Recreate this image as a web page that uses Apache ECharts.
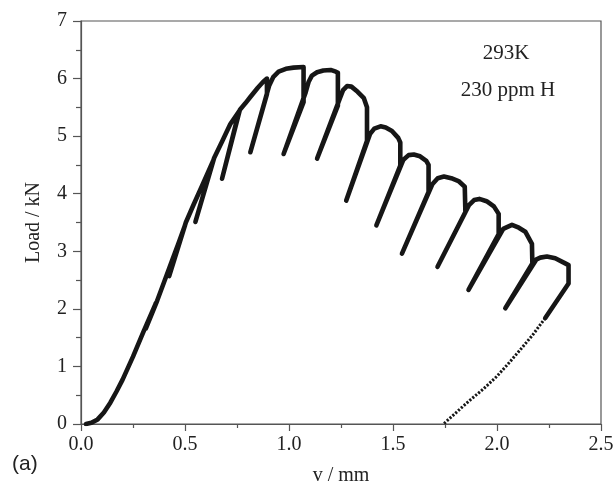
<!DOCTYPE html>
<html>
<head>
<meta charset="utf-8">
<script src="https://cdn.jsdelivr.net/npm/echarts@6/dist/echarts.min.js"></script>
<style>html,body{margin:0;padding:0;background:#fff}#c{width:614px;height:484px}</style>
</head>
<body>
<div id="c"></div>
<script>
// Displacement v (mm) of the loading / partial-unloading trace
const loadV = [0.024,0.05,0.08,0.11,0.141,0.17,0.2,0.25,0.30,0.36,
  0.312,0.366,0.40,0.44,0.47,0.50,
  0.424,0.504,0.54,0.58,0.636,
  0.55,0.64,0.68,0.718,0.76,
  0.678,0.764,0.79,0.814,0.85,0.875,0.894,
  0.894,0.814,0.905,0.925,0.95,0.985,1.022,1.07,
  1.07,0.974,1.08,1.094,1.11,1.135,1.165,1.2,1.225,1.235,
  1.235,1.135,1.245,1.26,1.279,1.30,1.33,1.36,1.375,
  1.375,1.275,1.39,1.41,1.44,1.465,1.495,1.525,1.535,
  1.535,1.42,1.55,1.575,1.60,1.63,1.66,1.671,
  1.671,1.543,1.69,1.715,1.745,1.78,1.815,1.845,
  1.848,1.714,1.865,1.89,1.915,1.95,1.985,2.008,
  2.008,1.863,2.03,2.048,2.072,2.105,2.136,2.168,
  2.17,2.04,2.19,2.208,2.24,2.28,2.328,2.344,
  2.344,2.232];
// Load (kN) of the same trace
const loadKN = [0,0.02,0.08,0.2,0.37,0.56,0.77,1.17,1.6,2.1,
  1.66,2.14,2.47,2.86,3.15,3.45,
  2.57,3.5,3.8,4.12,4.58,
  3.51,4.62,4.92,5.21,5.43,
  4.26,5.46,5.57,5.68,5.84,5.94,6.0,
  5.73,4.72,5.88,6.03,6.12,6.17,6.19,6.2,
  5.59,4.69,5.76,5.94,6.05,6.11,6.14,6.15,6.12,6.10,
  5.53,4.61,5.66,5.8,5.87,5.86,5.77,5.66,5.5,
  4.92,3.88,5.04,5.13,5.17,5.15,5.09,4.97,4.89,
  4.49,3.45,4.59,4.67,4.68,4.65,4.57,4.5,
  4.03,2.96,4.17,4.27,4.30,4.27,4.22,4.12,
  3.68,2.73,3.80,3.89,3.91,3.87,3.78,3.65,
  3.30,2.33,3.39,3.42,3.46,3.41,3.34,3.13,
  2.79,2.01,2.86,2.89,2.91,2.88,2.79,2.76,
  2.44,1.84];
// Final unloading (dotted part)
const tailV = [2.232,2.17,2.112,2.05,2.0,1.935,1.872,1.81,1.743];
const tailKN = [1.84,1.54,1.29,1.03,0.83,0.61,0.42,0.22,0];

const xTicks = [0,0.5,1.0,1.5,2.0,2.5];
const yTicks = [0,1,2,3,4,5,6,7];
const notes = ['293K','230 ppm H'];
const panelLabel = '(a)';

const mainData = loadV.map((v,i)=>[v,loadKN[i]]);
const tailData = tailV.map((v,i)=>[v,tailKN[i]]);

const serif = 'Liberation Serif';
const axisCol = '#555';
const chart = echarts.init(document.getElementById('c'), null, {renderer:'canvas'});
chart.setOption({
  animation:false,
  backgroundColor:'#fff',
  grid:{left:81,right:13,top:21,bottom:60,containLabel:false,outerBoundsMode:'none',
    show:true,borderColor:axisCol,borderWidth:1.2,backgroundColor:'transparent'},
  xAxis:{type:'value',min:xTicks[0],max:xTicks[xTicks.length-1],interval:0.5,
    name:'v / mm',nameLocation:'middle',nameGap:42,
    nameTextStyle:{fontFamily:serif,fontSize:20,color:'#222'},
    axisLine:{show:true,onZero:false,lineStyle:{color:axisCol,width:1.2}},
    axisTick:{show:true,inside:false,length:7,lineStyle:{color:axisCol,width:1.2}},
    minorTick:{show:true,splitNumber:2,length:4,lineStyle:{color:axisCol,width:1.2}},
    splitLine:{show:false},
    axisLabel:{fontFamily:serif,fontSize:20,color:'#222',margin:11,formatter:v=>v.toFixed(1)}},
  yAxis:{type:'value',min:yTicks[0],max:yTicks[yTicks.length-1],interval:1,
    name:'Load / kN',nameLocation:'middle',nameGap:37,
    nameTextStyle:{fontFamily:serif,fontSize:20,color:'#222'},
    axisLine:{show:true,onZero:false,lineStyle:{color:axisCol,width:1.2}},
    axisTick:{show:true,inside:false,length:8,lineStyle:{color:axisCol,width:1.2}},
    minorTick:{show:true,splitNumber:2,length:5,lineStyle:{color:axisCol,width:1.2}},
    splitLine:{show:false},
    axisLabel:{fontFamily:serif,fontSize:20,color:'#222',margin:14,formatter:v=>String(v)}},
  series:[
    {type:'line',data:mainData,showSymbol:false,smooth:false,
      lineStyle:{color:'#161616',width:4.6,join:'round',cap:'round'}},
    {type:'line',data:tailData,showSymbol:false,smooth:false,
      lineStyle:{color:'#161616',width:3,type:[2.2,1.6],cap:'butt'}}
  ],
  graphic:[
    {type:'text',x:506,y:53,style:{text:notes[0],font:'21px "Liberation Serif"',fill:'#222',textAlign:'center',textVerticalAlign:'middle'}},
    {type:'text',x:508,y:90,style:{text:notes[1],font:'21px "Liberation Serif"',fill:'#222',textAlign:'center',textVerticalAlign:'middle'}},
    {type:'text',x:12,y:464,style:{text:panelLabel,font:'21px "Liberation Sans"',fill:'#222',textAlign:'left',textVerticalAlign:'middle'}}
  ]
});
</script>
</body>
</html>
